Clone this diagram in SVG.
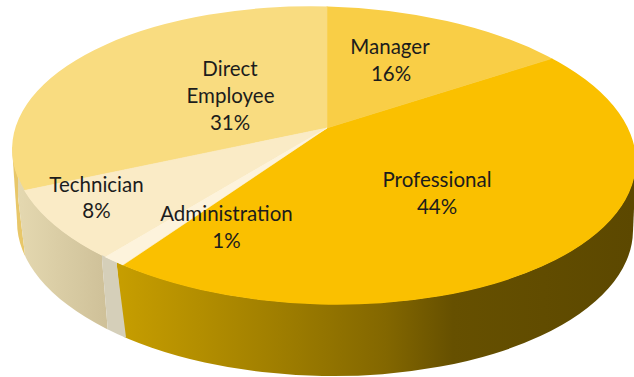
<svg xmlns="http://www.w3.org/2000/svg" width="634" height="377" viewBox="0 0 634 377">
<style>
.lbl{font-family:Lato,"Liberation Sans","DejaVu Sans",sans-serif;font-size:20.5px;fill:#1c1c1c;text-anchor:middle}
.edge{stroke-width:0.6}
</style>
<defs>
<clipPath id="topClip">
<ellipse cx="324" cy="155.5" rx="312" ry="149" transform="rotate(1.5 324 155.5)"/>
</clipPath>
<mask id="sideMask" maskUnits="userSpaceOnUse" x="-20" y="-20" width="680" height="420">
<ellipse cx="325" cy="226" rx="308" ry="150" transform="rotate(1 325 226)" fill="#fff"/>
<polygon points="12,147.3 636,163.7 633,231.4 17,220.6" fill="#fff"/>
<ellipse cx="324" cy="155.5" rx="311.4" ry="148.4" transform="rotate(1.5 324 155.5)" fill="#000"/>
</mask>
<linearGradient id="gProf" gradientUnits="userSpaceOnUse" x1="117" y1="0" x2="634" y2="0">
<stop offset="0" stop-color="#c79e00"/>
<stop offset="0.16" stop-color="#b38e00"/>
<stop offset="0.35" stop-color="#9a7a00"/>
<stop offset="0.52" stop-color="#836700"/>
<stop offset="0.65" stop-color="#665000"/>
<stop offset="1" stop-color="#5c4800"/>
</linearGradient>
<linearGradient id="gTech" gradientUnits="userSpaceOnUse" x1="18" y1="0" x2="105" y2="0">
<stop offset="0" stop-color="#e4d8b0"/>
<stop offset="1" stop-color="#cfc199"/>
</linearGradient>
</defs>
<rect width="634" height="377" fill="#fff"/>

<g id="professional">
<polygon mask="url(#sideMask)" points="117,100 640,100 640,380 128,380 117,267" fill="url(#gProf)"/>
<polygon clip-path="url(#topClip)" class="edge" points="327,128 806,-20 800,500 -87,404" fill="#fac000" stroke="#fac000"/>
<text class="lbl" x="437" y="187">Professional</text>
<text class="lbl" x="437" y="214">44%</text>
</g>

<g id="manager">
<polygon clip-path="url(#topClip)" class="edge" points="327,128 327,-20 806,-20" fill="#f9ce46" stroke="#f9ce46"/>
<text class="lbl" x="390" y="54">Manager</text>
<text class="lbl" x="391" y="81">16%</text>
</g>

<g id="direct-employee">
<polygon mask="url(#sideMask)" points="-10,100 18,100 18,197 28,280 -10,280" fill="#e8c769"/>
<polygon clip-path="url(#topClip)" class="edge" points="327,128 327,-20 -40,-20 -41,204" fill="#f9dc80" stroke="#f9dc80"/>
<text class="lbl" x="230" y="76">Direct</text>
<text class="lbl" x="230.5" y="103">Employee</text>
<text class="lbl" x="230" y="130">31%</text>
</g>

<g id="technician">
<polygon mask="url(#sideMask)" points="18,100 102,100 102,259 109,345 28,345 28,280 18,197" fill="url(#gTech)"/>
<polygon clip-path="url(#topClip)" class="edge" points="327,128 -41,204 -123,390" fill="#faebc6" stroke="#faebc6"/>
<text class="lbl" x="96.5" y="192">Technician</text>
<text class="lbl" x="96.5" y="218">8%</text>
</g>

<g id="administration">
<polygon mask="url(#sideMask)" points="102,100 117,100 117,267 127,345 109,345 102,259" fill="#d5cfb9"/>
<polygon clip-path="url(#topClip)" class="edge" points="327,128 -123,390 -93,410" fill="#fdf3dc" stroke="#fdf3dc"/>
<text class="lbl" x="226.5" y="221">Administration</text>
<text class="lbl" x="226.5" y="248">1%</text>
</g>
</svg>
